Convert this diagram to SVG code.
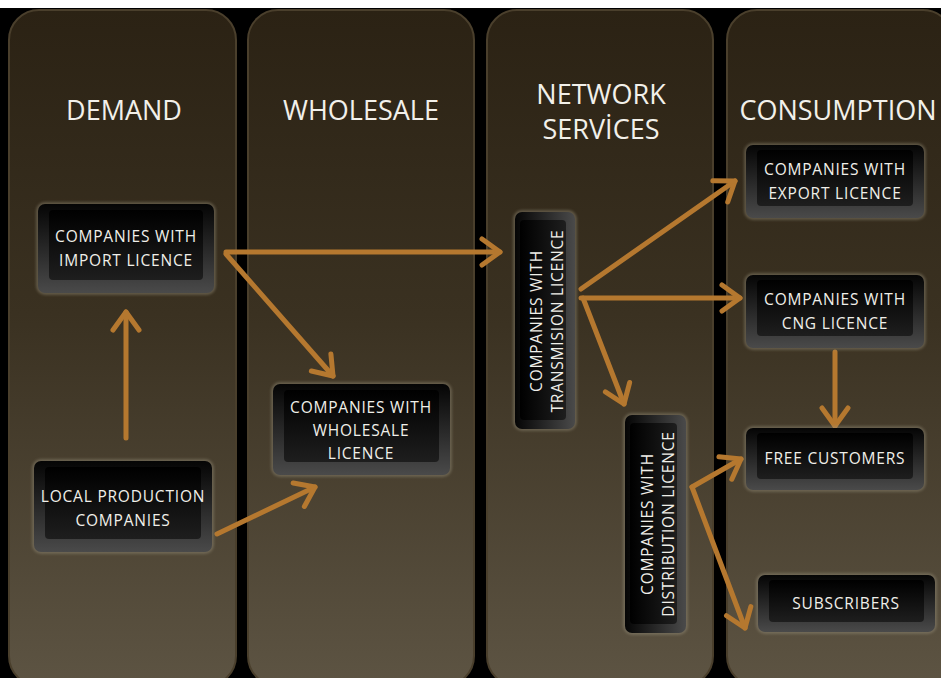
<svg xmlns="http://www.w3.org/2000/svg" width="941" height="678" viewBox="0 0 941 678">
  <defs>
    <linearGradient id="colFill" x1="0" y1="0" x2="0" y2="1">
      <stop offset="0" stop-color="#2b2214"/>
      <stop offset="0.45" stop-color="#3a3121"/>
      <stop offset="1" stop-color="#5d5443"/>
    </linearGradient>
    <linearGradient id="keyOuter" x1="0" y1="0" x2="0" y2="1">
      <stop offset="0" stop-color="#050505"/>
      <stop offset="1" stop-color="#4a4a4a"/>
    </linearGradient>
    <linearGradient id="keyInner" x1="0" y1="0" x2="0" y2="1">
      <stop offset="0" stop-color="#000"/>
      <stop offset="1" stop-color="#1e1e1e"/>
    </linearGradient>
    <linearGradient id="keyInnerV" x1="0" y1="0" x2="1" y2="0">
      <stop offset="0" stop-color="#000"/>
      <stop offset="1" stop-color="#1e1e1e"/>
    </linearGradient>
    <linearGradient id="keyOuterV" x1="0" y1="0" x2="1" y2="0">
      <stop offset="0" stop-color="#050505"/>
      <stop offset="1" stop-color="#4a4a4a"/>
    </linearGradient>
    <marker id="chev" viewBox="-24 -16 28 32" refX="0" refY="0" markerWidth="28" markerHeight="32" markerUnits="userSpaceOnUse" orient="auto">
      <path d="M-18,-13 L0,0 L-18,13" fill="none" stroke="#b5782f" stroke-width="5" stroke-linecap="round" stroke-linejoin="round"/>
    </marker>
    <filter id="glow" x="-20%" y="-20%" width="140%" height="140%">
      <feGaussianBlur stdDeviation="1.5"/>
    </filter>
  </defs>
  <style>
    .col { fill: url(#colFill); stroke: #4a3f2c; stroke-width: 2; }
    .title { font-family: "Open Sans", "Liberation Sans", sans-serif; font-size: 27px; fill: #f2f0ea; text-anchor: middle; }
    .halo { fill: none; stroke: #9d9580; stroke-width: 3; opacity: 0.55; filter: url(#glow); }
    .outer { fill: url(#keyOuter); }
    .outerV { fill: url(#keyOuterV); }
    .inner { fill: url(#keyInner); }
    .innerV { fill: url(#keyInnerV); }
    .lbl { font-family: "Open Sans", "Liberation Sans", sans-serif; font-size: 15.5px; letter-spacing: 0.8px; fill: #f0efe9; text-anchor: middle; }
    .conn path { fill: none; stroke: #b5782f; stroke-width: 5; stroke-linecap: round; stroke-linejoin: round; marker-end: url(#chev); }
  </style>

  <rect width="941" height="678" fill="#000"/>
  <rect width="941" height="8" fill="#fff"/>

  <!-- column panels -->
  <g id="columns">
    <rect class="col" x="9" y="10" width="227" height="676" rx="30"/>
    <rect class="col" x="248" y="10" width="226" height="676" rx="30"/>
    <rect class="col" x="487" y="10" width="226" height="676" rx="30"/>
    <rect class="col" x="727" y="10" width="226" height="676" rx="30"/>
    <text class="title" x="124" y="120">DEMAND</text>
    <text class="title" x="361" y="120">WHOLESALE</text>
    <text class="title" x="601" y="104">NETWORK</text>
    <text class="title" x="601" y="139">SERVİCES</text>
    <text class="title" x="838" y="120">CONSUMPTION</text>
  </g>

  <!-- connectors -->
  <g id="connectors" class="conn">
    <path d="M126,438 L126,312"/>
    <path d="M226,252 L500,252"/>
    <path d="M226,254 L333,376"/>
    <path d="M217,534 L315,487"/>
    <path d="M581,289 L735,181"/>
    <path d="M581,298 L740,298"/>
    <path d="M583,298 L624,404"/>
    <path d="M835,352 L835,426"/>
    <path d="M692,487 L741,459"/>
    <path d="M692,487 L745,628"/>
  </g>

  <!-- nodes -->
  <g id="node-import">
    <rect class="halo" x="38" y="204" width="176" height="89" rx="7"/>
    <rect class="outer" x="38" y="204" width="176" height="89" rx="7"/>
    <rect class="inner" x="49" y="210" width="154" height="70" rx="4"/>
    <text class="lbl" x="126" y="242">COMPANIES WITH</text>
    <text class="lbl" x="126" y="266">IMPORT LICENCE</text>
  </g>

  <g id="node-local">
    <rect class="halo" x="34" y="461" width="178" height="91" rx="7"/>
    <rect class="outer" x="34" y="461" width="178" height="91" rx="7"/>
    <rect class="inner" x="45" y="467" width="156" height="72" rx="4"/>
    <text class="lbl" x="123" y="502">LOCAL PRODUCTION</text>
    <text class="lbl" x="123" y="526">COMPANIES</text>
  </g>

  <g id="node-wholesale">
    <rect class="halo" x="273" y="384" width="177" height="91" rx="7"/>
    <rect class="outer" x="273" y="384" width="177" height="91" rx="7"/>
    <rect class="inner" x="284" y="390" width="155" height="72" rx="4"/>
    <text class="lbl" x="361" y="413">COMPANIES WITH</text>
    <text class="lbl" x="361" y="436">WHOLESALE</text>
    <text class="lbl" x="361" y="459">LICENCE</text>
  </g>

  <g id="node-transmission">
    <rect class="halo" x="515" y="212" width="60" height="217" rx="7"/>
    <rect class="outerV" x="515" y="212" width="60" height="217" rx="7"/>
    <rect class="innerV" x="520" y="220" width="46" height="200" rx="4"/>
    <text class="lbl" transform="translate(542,321) rotate(-90)">COMPANIES WITH</text>
    <text class="lbl" transform="translate(563,321) rotate(-90)">TRANSMISION LICENCE</text>
  </g>

  <g id="node-distribution">
    <rect class="halo" x="625" y="415" width="61" height="218" rx="7"/>
    <rect class="outerV" x="625" y="415" width="61" height="218" rx="7"/>
    <rect class="innerV" x="630" y="423" width="47" height="201" rx="4"/>
    <text class="lbl" transform="translate(653,524) rotate(-90)">COMPANIES WITH</text>
    <text class="lbl" transform="translate(674,524) rotate(-90)">DISTRIBUTION LICENCE</text>
  </g>

  <g id="node-export">
    <rect class="halo" x="746" y="145" width="178" height="73" rx="7"/>
    <rect class="outer" x="746" y="145" width="178" height="73" rx="7"/>
    <rect class="inner" x="757" y="150" width="156" height="56" rx="4"/>
    <text class="lbl" x="835" y="175">COMPANIES WITH</text>
    <text class="lbl" x="835" y="199">EXPORT LICENCE</text>
  </g>

  <g id="node-cng">
    <rect class="halo" x="746" y="275" width="178" height="73" rx="7"/>
    <rect class="outer" x="746" y="275" width="178" height="73" rx="7"/>
    <rect class="inner" x="757" y="280" width="156" height="56" rx="4"/>
    <text class="lbl" x="835" y="305">COMPANIES WITH</text>
    <text class="lbl" x="835" y="329">CNG LICENCE</text>
  </g>

  <g id="node-free">
    <rect class="halo" x="746" y="428" width="178" height="62" rx="7"/>
    <rect class="outer" x="746" y="428" width="178" height="62" rx="7"/>
    <rect class="inner" x="757" y="433" width="156" height="46" rx="4"/>
    <text class="lbl" x="835" y="464">FREE CUSTOMERS</text>
  </g>

  <g id="node-subscribers">
    <rect class="halo" x="758" y="575" width="177" height="57" rx="7"/>
    <rect class="outer" x="758" y="575" width="177" height="57" rx="7"/>
    <rect class="inner" x="769" y="580" width="155" height="42" rx="4"/>
    <text class="lbl" x="846" y="609">SUBSCRIBERS</text>
  </g>
</svg>
